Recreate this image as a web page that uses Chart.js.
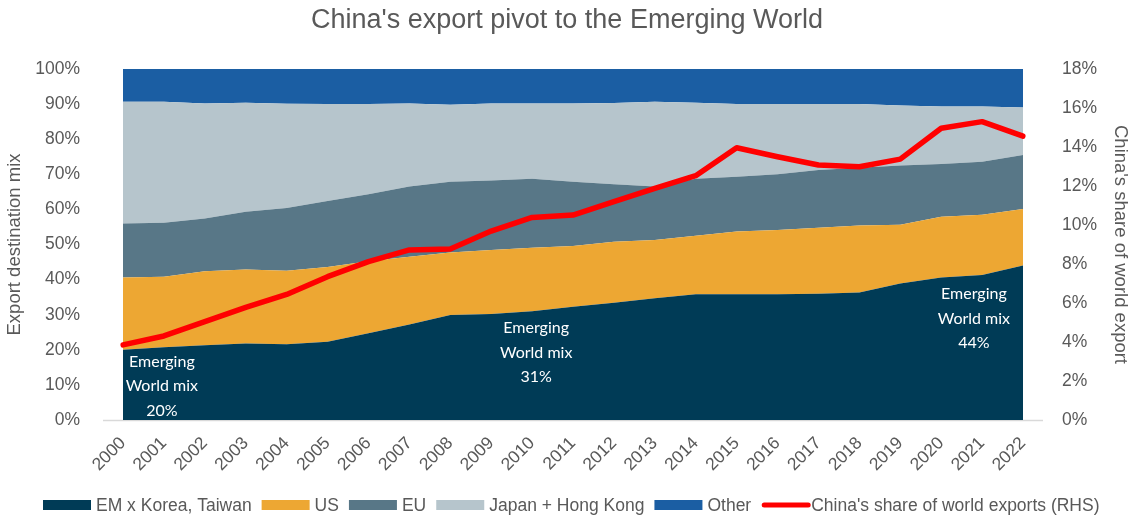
<!DOCTYPE html>
<html>
<head>
<meta charset="utf-8">
<title>China's export pivot to the Emerging World</title>
<script src="https://cdn.jsdelivr.net/npm/chart.js@4/dist/chart.umd.min.js"></script>
<style>
  html, body { margin: 0; padding: 0; background: #ffffff; }
  #wrap { width: 1131px; height: 517px; position: relative; }
</style>
</head>
<body>
<div id="wrap"><canvas id="c" width="1131" height="517"></canvas></div>
<script>
// Years on the category axis
const years = ['2000','2001','2002','2003','2004','2005','2006','2007','2008','2009','2010','2011',
               '2012','2013','2014','2015','2016','2017','2018','2019','2020','2021','2022'];

// Export destination mix, % of China's exports (stacked to 100%)
const emExKoreaTaiwan = [20.0,20.7,21.3,21.8,21.6,22.3,24.7,27.2,29.9,30.2,31.0,32.3,33.4,34.7,35.8,35.8,35.8,36.0,36.3,38.9,40.6,41.3,44.0];
const usShare         = [20.6,20.1,21.1,21.1,20.9,21.3,20.5,19.3,17.8,18.2,18.1,17.3,17.4,16.6,16.7,17.9,18.3,18.8,19.1,16.7,17.3,17.2,16.1];
const euShare         = [15.4,15.4,15.0,16.4,17.9,18.8,19.1,20.0,20.2,19.8,19.6,18.3,16.4,15.2,16.2,15.6,15.9,16.4,16.5,16.9,15.0,15.1,15.4];
const japanHongKong   = [34.7,34.5,32.8,31.1,29.7,27.6,25.7,23.7,21.9,22.0,21.5,22.3,23.1,24.2,21.7,20.7,20.0,18.8,18.1,17.1,16.4,15.7,13.5];
const otherShare      = [9.3,9.3,9.8,9.6,9.9,10.0,10.0,9.8,10.2,9.8,9.8,9.8,9.7,9.3,9.6,10.0,10.0,10.0,10.0,10.4,10.7,10.7,11.0];

// China's share of world exports, % (right-hand scale)
const chinaWorldShare = [3.85,4.31,5.04,5.78,6.44,7.35,8.12,8.72,8.77,9.69,10.39,10.51,11.2,11.88,12.53,13.96,13.5,13.08,12.99,13.38,14.96,15.3,14.56];

// Tick labels
const leftTicks  = [0,10,20,30,40,50,60,70,80,90,100];
const rightTicks = [0,2,4,6,8,10,12,14,16,18];

// Callout years for the emerging-world share
const calloutYears = ['2000','2010','2022'];

const GREY = '#595959';
const FONT = "'Liberation Sans', Arial, sans-serif";

const areaColors = {
  em: '#003b56',
  us: '#eda733',
  eu: '#587787',
  jhk: '#b6c5cc',
  other: '#1b5ea3'
};

function area(label, data, color, fill) {
  return {
    type: 'line',
    label: label,
    data: data,
    yAxisID: 'y',
    backgroundColor: color,
    borderColor: color,
    borderWidth: 0,
    pointRadius: 0,
    pointHoverRadius: 0,
    tension: 0,
    fill: fill,
    order: 2
  };
}

// Title, legend, baseline and callouts drawn on the canvas
const decorations = {
  id: 'decorations',
  beforeDatasetsDraw(chart) {
    const { ctx, chartArea } = chart;
    ctx.save();
    ctx.strokeStyle = '#d9d9d9';
    ctx.lineWidth = 1.5;
    ctx.beginPath();
    ctx.moveTo(chartArea.left - 20, chartArea.bottom + 0.5);
    ctx.lineTo(chartArea.right + 20, chartArea.bottom + 0.5);
    ctx.stroke();
    ctx.restore();
  },
  afterDatasetsDraw(chart, args, opts) {
    const { ctx } = chart;
    const xs = chart.scales.x, ys = chart.scales.y;
    ctx.save();
    ctx.fillStyle = '#ffffff';
    ctx.font = "16px Lato, 'Open Sans', sans-serif";
    ctx.textAlign = 'center';
    ctx.textBaseline = 'middle';
    opts.callouts.forEach(c => {
      const idx = years.indexOf(c.year);
      const pct = Math.round(emExKoreaTaiwan[idx]) + '%';
      const x = xs.getPixelForValue(c.xAt);
      const y0 = ys.getPixelForValue(c.yAt);
      ['Emerging', 'World mix', pct].forEach((t, i) => ctx.fillText(t, x, y0 + i * 24.5));
    });
    ctx.restore();
  },
  afterDraw(chart) {
    const { ctx } = chart;
    ctx.save();
    // Title
    ctx.fillStyle = GREY;
    ctx.font = '27px ' + FONT;
    ctx.textAlign = 'center';
    ctx.textBaseline = 'middle';
    ctx.fillText("China's export pivot to the Emerging World", 567, 21);

    // Legend
    ctx.font = '17.5px ' + FONT;
    ctx.textAlign = 'left';
    let x = 43;
    const yMid = 505;
    chart.data.datasets.forEach(ds => {
      if (ds.yAxisID === 'y1') {
        ctx.strokeStyle = ds.borderColor;
        ctx.lineWidth = 5;
        ctx.lineCap = 'round';
        ctx.beginPath();
        ctx.moveTo(x + 3, yMid);
        ctx.lineTo(x + 47, yMid);
        ctx.stroke();
        x += 50;
      } else {
        ctx.fillStyle = ds.backgroundColor;
        ctx.fillRect(x, yMid - 5, 48, 10);
        x += 53;
      }
      ctx.fillStyle = GREY;
      ctx.fillText(ds.label, x, yMid + 1);
      x += ctx.measureText(ds.label).width + 10;
    });
    ctx.restore();
  }
};

const chart = new Chart(document.getElementById('c'), {
  type: 'line',
  data: {
    labels: years,
    datasets: [
      area('EM x Korea, Taiwan', emExKoreaTaiwan, areaColors.em, 'origin'),
      area('US', usShare, areaColors.us, '-1'),
      area('EU', euShare, areaColors.eu, '-1'),
      area('Japan + Hong Kong', japanHongKong, areaColors.jhk, '-1'),
      area('Other', otherShare, areaColors.other, '-1'),
      {
        type: 'line',
        label: "China's share of world exports (RHS)",
        data: chinaWorldShare,
        yAxisID: 'y1',
        borderColor: '#ff0000',
        backgroundColor: '#ff0000',
        borderWidth: 5.5,
        borderJoinStyle: 'round',
        borderCapStyle: 'round',
        pointRadius: 0,
        pointHoverRadius: 0,
        tension: 0,
        fill: false,
        order: 1
      }
    ]
  },
  options: {
    responsive: false,
    animation: false,
    events: [],
    layout: { padding: { top: 69, bottom: 0, left: 0, right: 0 } },
    plugins: {
      legend: { display: false },
      title: { display: false },
      tooltip: { enabled: false },
      decorations: {
        callouts: [
          { year: calloutYears[0], xAt: 0.95, yAt: 16.6 },
          { year: calloutYears[1], xAt: 10.1, yAt: 26.2 },
          { year: calloutYears[2], xAt: 20.8, yAt: 35.9 }
        ]
      }
    },
    scales: {
      x: {
        offset: false,
        grid: { display: false, drawTicks: false },
        border: { display: false },
        ticks: {
          color: GREY,
          font: { family: FONT, size: 17.5 },
          minRotation: 45,
          maxRotation: 45,
          padding: 13,
          autoSkip: false
        },
        afterFit(scale) { scale.height = 97; }
      },
      y: {
        stacked: true,
        min: 0,
        max: 100,
        afterBuildTicks(scale) { scale.ticks = leftTicks.map(v => ({ value: v })); },
        grid: { display: false, drawTicks: false },
        border: { display: false },
        ticks: {
          color: GREY,
          font: { family: FONT, size: 17.5 },
          padding: 43,
          callback: v => v + '%'
        },
        title: {
          display: true,
          text: 'Export destination mix',
          color: GREY,
          font: { family: FONT, size: 18.5 },
          padding: { top: 4, bottom: 0 }
        },
        afterFit(scale) { scale.width = 123; }
      },
      y1: {
        position: 'right',
        stacked: false,
        min: 0,
        max: 18,
        afterBuildTicks(scale) { scale.ticks = rightTicks.map(v => ({ value: v })); },
        grid: { display: false, drawTicks: false },
        border: { display: false },
        ticks: {
          color: GREY,
          font: { family: FONT, size: 17.5 },
          padding: 39,
          callback: v => v + '%'
        },
        title: {
          display: true,
          text: "China's share of world export",
          color: GREY,
          font: { family: FONT, size: 18.5 },
          padding: { top: 0, bottom: 0 }
        },
        afterFit(scale) { scale.width = 108; }
      }
    }
  },
  plugins: [decorations]
});
</script>
</body>
</html>
